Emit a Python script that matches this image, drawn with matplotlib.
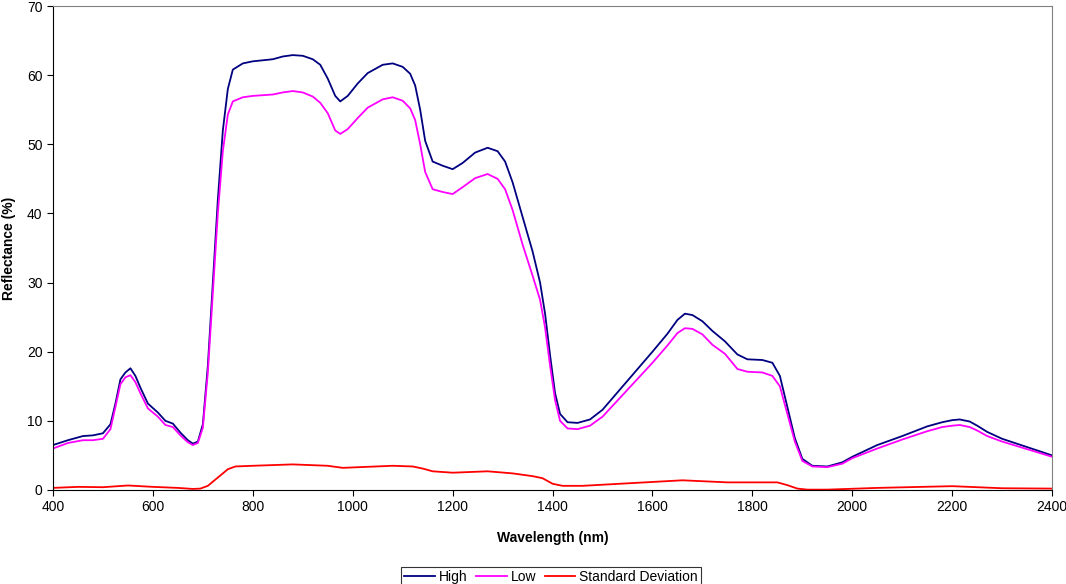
import numpy as np
import matplotlib
matplotlib.use('Agg')
import matplotlib.pyplot as plt

plt.rcParams['font.family'] = ['Liberation Sans', 'DejaVu Sans']

# values
wl_high = [400, 430, 460, 480, 500, 515, 525, 535, 545, 555, 565, 575, 590, 610, 625,
           640, 655, 670, 680, 690, 700, 710, 720, 730, 740, 750, 760, 780, 800, 840,
           860, 880, 900, 920, 935, 950, 965, 975, 990, 1010, 1030, 1060, 1080, 1100,
           1115, 1125, 1135, 1145, 1160, 1180, 1200, 1220, 1245, 1270, 1290, 1305,
           1320, 1340, 1360, 1375, 1385, 1395, 1405, 1415, 1430, 1450, 1475, 1500,
           1550, 1600, 1630, 1650, 1665, 1680, 1700, 1720, 1745, 1770, 1790, 1820, 1840,
           1855, 1870, 1885, 1900, 1920, 1950, 1980, 2000, 2050, 2100, 2150, 2180,
           2200, 2215, 2235, 2250, 2270, 2300, 2350, 2400]
high = [6.5, 7.2, 7.8, 7.9, 8.2, 9.5, 12.5, 16.0, 17.0, 17.6, 16.5, 14.8, 12.5, 11.2, 10.0,
        9.6, 8.3, 7.2, 6.7, 7.0, 9.5, 18.0, 30.0, 42.0, 52.0, 58.0, 60.8, 61.7, 62.0, 62.3,
        62.7, 62.9, 62.8, 62.3, 61.5, 59.5, 57.0, 56.2, 57.0, 58.8, 60.3, 61.5, 61.7, 61.2,
        60.2, 58.5, 55.0, 50.5, 47.5, 46.9, 46.4, 47.3, 48.8, 49.5, 49.0, 47.5,
        44.5, 39.5, 34.5, 30.0, 25.5, 19.5, 14.0, 11.0, 9.8, 9.7, 10.2, 11.6,
        15.8, 20.0, 22.6, 24.6, 25.5, 25.3, 24.4, 23.0, 21.5, 19.6, 18.9, 18.8, 18.4,
        16.5, 12.0, 7.5, 4.5, 3.5, 3.4, 4.0, 4.8, 6.5, 7.8, 9.2, 9.8,
        10.1, 10.2, 9.9, 9.3, 8.4, 7.4, 6.2, 5.0]

wl_low = wl_high
low = [6.0, 6.8, 7.2, 7.2, 7.4, 8.8, 12.0, 15.3, 16.3, 16.6, 15.6, 14.0, 11.8, 10.6, 9.4,
       9.1, 7.9, 6.9, 6.5, 6.8, 9.0, 17.0, 28.5, 40.0, 49.0, 54.3, 56.2, 56.8, 57.0, 57.2,
       57.5, 57.7, 57.5, 56.9, 56.0, 54.5, 52.0, 51.5, 52.2, 53.8, 55.3, 56.5, 56.8, 56.3,
       55.2, 53.5, 50.0, 46.0, 43.5, 43.1, 42.8, 43.8, 45.1, 45.7, 45.0, 43.5,
       40.5, 35.5, 31.0, 27.5, 23.5, 18.0, 13.0, 10.0, 8.9, 8.8, 9.3, 10.6,
       14.5, 18.4, 20.9, 22.7, 23.4, 23.3, 22.5, 21.0, 19.7, 17.5, 17.1, 17.0, 16.5,
       15.0, 11.0, 7.0, 4.2, 3.4, 3.3, 3.8, 4.6, 6.0, 7.3, 8.5, 9.1,
       9.3, 9.4, 9.1, 8.6, 7.8, 7.0, 5.9, 4.8]

wl_std = [400, 450, 500, 550, 600, 650, 680, 695, 710, 730, 750, 765, 800, 880, 950, 980,
          1080, 1120, 1140, 1160, 1200, 1270, 1320, 1360, 1380, 1400, 1420, 1460, 1560,
          1660, 1750, 1850, 1870, 1890, 1910, 1950, 2050, 2200, 2300, 2400]
std = [0.3, 0.45, 0.4, 0.65, 0.45, 0.3, 0.15, 0.2, 0.6, 1.8, 3.0, 3.4, 3.5, 3.7, 3.5, 3.2,
       3.5, 3.4, 3.1, 2.7, 2.5, 2.7, 2.4, 2.0, 1.7, 0.9, 0.6, 0.6, 1.0,
       1.4, 1.1, 1.1, 0.7, 0.2, 0.05, 0.05, 0.3, 0.55, 0.25, 0.2]

fig = plt.figure(figsize=(10.66, 5.84), dpi=100)
ax = fig.add_axes([0.0497, 0.161, 0.9373, 0.8287])

kw = dict(lw=1.3, solid_joinstyle='round')
ax.plot(wl_high, high, color='#000080', label='High', **kw)
ax.plot(wl_low, low, color='#ff00ff', label='Low', **kw)
ax.plot(wl_std, std, color='#ff0000', label='Standard Deviation', **kw)

ax.set_xlim(400, 2400)
ax.set_ylim(0, 70)
ax.set_xticks(np.arange(400, 2401, 200))
ax.set_yticks(np.arange(0, 71, 10))
ax.tick_params(direction='out', length=4, width=0.8, labelsize=10)
for s in ['top', 'right']:
    ax.spines[s].set_color('#808080')
for s in ['left', 'bottom']:
    ax.spines[s].set_color('black')

ax.set_xlabel('Wavelength (nm)', fontsize=10, fontweight='bold', labelpad=12)
ax.set_ylabel('Reflectance (%)', fontsize=10, fontweight='bold', labelpad=8)

leg = fig.legend(loc='lower center', bbox_to_anchor=(0.517, -0.018), ncol=3, fontsize=10,
                 frameon=True, fancybox=False, edgecolor='black', handlelength=2.2,
                 handletextpad=0.3, columnspacing=0.6, borderpad=0.25)
leg.get_frame().set_linewidth(0.8)

fig.savefig('out.png', dpi=100)
